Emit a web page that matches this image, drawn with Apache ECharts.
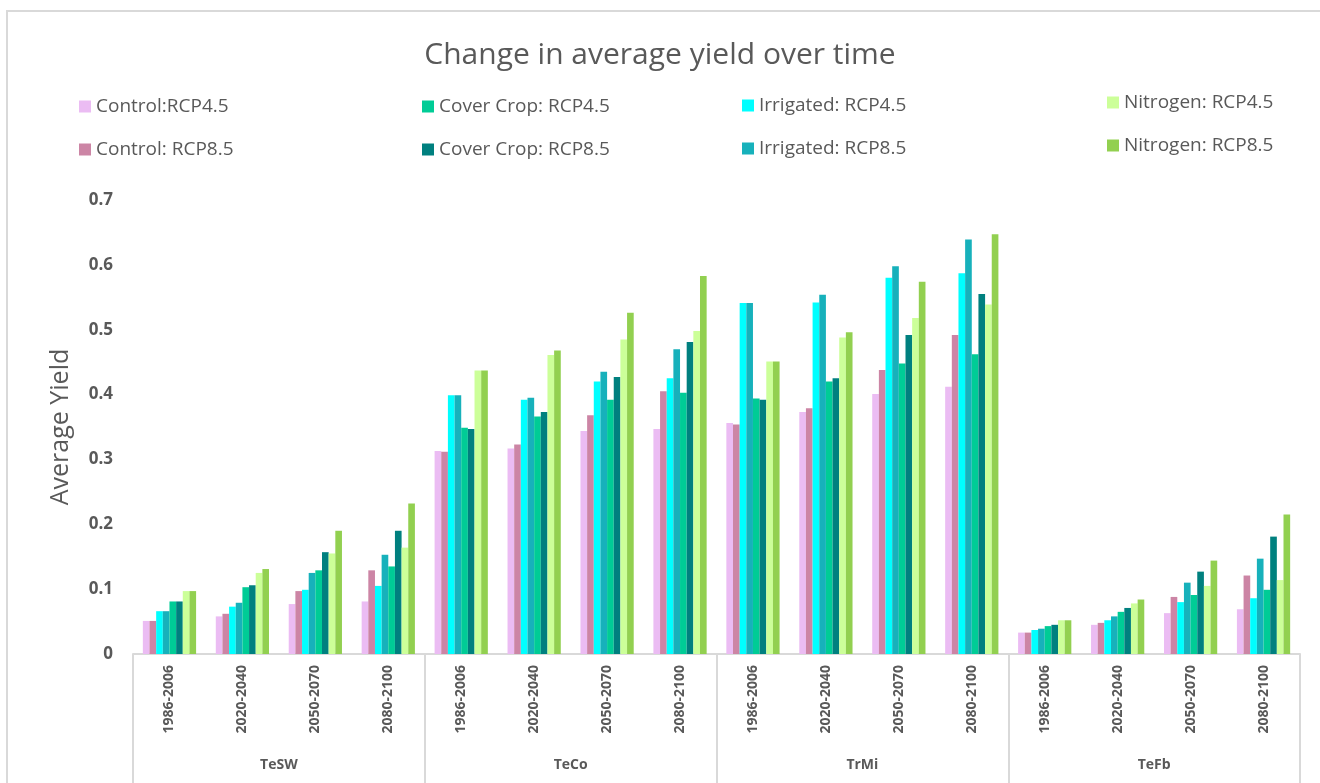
<!DOCTYPE html>
<html>
<head>
<meta charset="utf-8">
<script src="https://cdn.jsdelivr.net/npm/echarts@6/dist/echarts.min.js"></script>
<style>
  body { margin: 0; background: #fff; }
  #frame { position: absolute; left: 6px; top: 10px; width: 1400px; height: 900px; border: 2px solid #d9d9d9; box-sizing: border-box; }
  #chart { position: absolute; left: 0; top: 0; width: 1320px; height: 783px; }
</style>
</head>
<body>
<div id="frame"></div>
<div id="chart"></div>
<script>
// groups and time periods on the two-level axis
var groups = ['TeSW', 'TeCo', 'TrMi', 'TeFb'];
var periods = ['1986-2006', '2020-2040', '2050-2070', '2080-2100'];

// one value per (group, period), in the order TeSW x4, TeCo x4, TrMi x4, TeFb x4
var control45   = [0.051, 0.058, 0.077, 0.081, 0.313, 0.317, 0.344, 0.347, 0.356, 0.373, 0.401, 0.412, 0.033, 0.045, 0.063, 0.069];
var control85   = [0.051, 0.062, 0.097, 0.129, 0.312, 0.323, 0.368, 0.405, 0.354, 0.379, 0.438, 0.492, 0.033, 0.048, 0.088, 0.121];
var irrigated45 = [0.066, 0.073, 0.099, 0.105, 0.399, 0.392, 0.420, 0.425, 0.541, 0.542, 0.580, 0.587, 0.037, 0.052, 0.080, 0.086];
var irrigated85 = [0.066, 0.079, 0.125, 0.153, 0.399, 0.395, 0.435, 0.470, 0.541, 0.554, 0.598, 0.639, 0.039, 0.058, 0.110, 0.147];
var cover45     = [0.081, 0.103, 0.129, 0.135, 0.349, 0.366, 0.392, 0.403, 0.394, 0.420, 0.448, 0.462, 0.043, 0.065, 0.091, 0.099];
var cover85     = [0.081, 0.106, 0.157, 0.190, 0.347, 0.373, 0.427, 0.481, 0.392, 0.425, 0.492, 0.555, 0.045, 0.071, 0.127, 0.181];
var nitrogen45  = [0.097, 0.125, 0.155, 0.164, 0.437, 0.461, 0.485, 0.498, 0.451, 0.488, 0.518, 0.539, 0.052, 0.078, 0.105, 0.114];
var nitrogen85  = [0.097, 0.131, 0.190, 0.232, 0.437, 0.468, 0.526, 0.583, 0.451, 0.496, 0.574, 0.647, 0.052, 0.084, 0.144, 0.215];

var seriesNames = ['Control:RCP4.5', 'Control: RCP8.5', 'Irrigated: RCP4.5', 'Irrigated: RCP8.5',
                   'Cover Crop: RCP4.5', 'Cover Crop: RCP8.5', 'Nitrogen: RCP4.5', 'Nitrogen: RCP8.5'];
var seriesData = [control45, control85, irrigated45, irrigated85, cover45, cover85, nitrogen45, nitrogen85];
var colors = ['#ebbcf3', '#cc85a5', '#00ffff', '#17b1bb', '#00cc96', '#00807f', '#ccff99', '#92d050'];

var categories = [];
for (var g = 0; g < groups.length; g++) {
  for (var p = 0; p < periods.length; p++) categories.push(periods[p]);
}

var textColor = '#595959';
var font = 'Open Sans';

var series = [];
for (var i = 0; i < seriesNames.length; i++) {
  series.push({
    name: seriesNames[i],
    type: 'bar',
    xAxisIndex: 0,
    data: seriesData[i],
    itemStyle: { color: colors[i] },
    barGap: '0%',
    barCategoryGap: '27%'
  });
}

function legendCol(names, left, top) {
  return {
    data: names,
    orient: 'vertical',
    left: left,
    top: top,
    itemGap: 24,
    itemWidth: 12,
    itemHeight: 12,
    icon: 'rect',
    textStyle: { color: textColor, fontSize: 19, fontFamily: font }
  };
}

var myChart = echarts.init(document.getElementById('chart'));
var option = {
  animation: false,
  title: {
    text: 'Change in average yield over time',
    left: 'center',
    top: 35,
    textStyle: { color: textColor, fontSize: 30, fontWeight: 'normal', fontFamily: font }
  },
  legend: [
    legendCol(['Control:RCP4.5', 'Control: RCP8.5'], 74, 92),
    legendCol(['Cover Crop: RCP4.5', 'Cover Crop: RCP8.5'], 417, 92),
    legendCol(['Irrigated: RCP4.5', 'Irrigated: RCP8.5'], 737, 91),
    legendCol(['Nitrogen: RCP4.5', 'Nitrogen: RCP8.5'], 1102, 88)
  ],
  grid: { left: 133, right: 20, top: 200, bottom: 129, containLabel: false },
  xAxis: [
    {
      type: 'category',
      data: categories,
      position: 'bottom',
      axisLine: { lineStyle: { color: '#d9d9d9', width: 2 } },
      axisTick: { show: false },
      axisLabel: {
        interval: 0,
        rotate: 90,
        margin: 11,
        color: textColor,
        fontSize: 14,
        fontWeight: 'bold',
        fontFamily: font
      }
    },
    {
      type: 'category',
      data: groups,
      position: 'bottom',
      axisLine: { show: false },
      axisTick: { show: true, inside: false, length: 135, interval: 0, lineStyle: { color: '#d9d9d9', width: 2 } },
      axisLabel: {
        interval: 0,
        margin: 104,
        color: textColor,
        fontSize: 14,
        fontWeight: 'bold',
        fontFamily: font
      }
    }
  ],
  yAxis: {
    type: 'value',
    min: 0,
    max: 0.7,
    interval: 0.1,
    name: 'Average Yield',
    nameLocation: 'middle',
    nameGap: 60,
    nameTextStyle: { color: textColor, fontSize: 25, fontFamily: font },
    axisLine: { show: false },
    axisTick: { show: false },
    splitLine: { show: false },
    axisLabel: {
      margin: 20,
      color: textColor,
      fontSize: 17,
      fontWeight: 'bold',
      fontFamily: font,
      formatter: function (v) { return v === 0 ? '0' : v.toFixed(1); }
    }
  },
  series: series
};
myChart.setOption(option);
</script>
</body>
</html>
